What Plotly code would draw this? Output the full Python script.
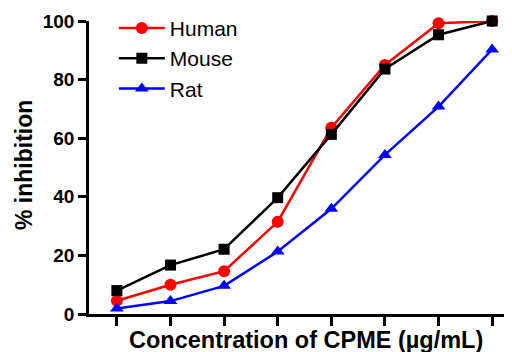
import plotly.graph_objects as go

x_idx = [0, 1, 2, 3, 4, 5, 6, 7]
human = [4.5, 10.0, 14.6, 31.5, 63.6, 85.0, 99.2, 100.0]
mouse = [8.0, 16.7, 22.1, 39.7, 61.3, 83.6, 95.3, 100.0]
rat = [1.9, 4.4, 9.6, 21.3, 35.9, 54.3, 70.8, 90.3]
y_ticks = [0, 20, 40, 60, 80, 100]

FONT = "Liberation Sans, Arial, sans-serif"

fig = go.Figure()
fig.add_trace(go.Scatter(x=x_idx, y=human, name="Human", mode="lines+markers",
                         line=dict(color="#ff0000", width=2.5),
                         marker=dict(symbol="circle", size=12, color="#ff0000"),
                         cliponaxis=False))
fig.add_trace(go.Scatter(x=x_idx, y=mouse, name="Mouse", mode="lines+markers",
                         line=dict(color="#000000", width=2.5),
                         marker=dict(symbol="square", size=11, color="#000000"),
                         cliponaxis=False))
fig.add_trace(go.Scatter(x=x_idx, y=rat, name="Rat", mode="lines+markers",
                         line=dict(color="#0000ff", width=2.5),
                         marker=dict(symbol="triangle-up", size=12, color="#0000ff"),
                         cliponaxis=False))

# page body has an 8px margin, so the figure is 8px smaller and offset
fig.update_layout(
    width=504, height=344,
    margin=dict(l=81, r=0, t=13, b=38, autoexpand=False),
    paper_bgcolor="white", plot_bgcolor="white",
    font=dict(family=FONT, color="black"),
    showlegend=True,
    legend=dict(x=0.0587, y=1.045,
                xanchor="left", yanchor="top",
                font=dict(size=21, family=FONT, color="black"),
                bgcolor="rgba(0,0,0,0)", itemwidth=46, tracegroupgap=0),
    xaxis=dict(range=[-0.52, 7.37], showgrid=False, zeroline=False,
               showline=True, linecolor="black", linewidth=2.5,
               ticks="outside", ticklen=9, tickwidth=2.5, tickcolor="black",
               tickvals=x_idx, showticklabels=False),
    yaxis=dict(range=[0, 100], showgrid=False, zeroline=False,
               showline=True, linecolor="black", linewidth=2.5,
               ticks="outside", ticklen=8, tickwidth=2.5, tickcolor="black",
               tickvals=y_ticks,
               tickfont=dict(size=19, family=FONT, color="black", weight="bold")),
    annotations=[
        dict(text="<b>Concentration of CPME (µg/mL)</b>", xref="paper", yref="paper",
             x=0.514, y=-0.089, xanchor="center", yanchor="middle", showarrow=False,
             font=dict(size=23.5, family=FONT, color="black")),
        dict(text="<b>% inhibition</b>", xref="paper", yref="paper",
             x=-0.154, y=0.508, xanchor="center", yanchor="middle", showarrow=False,
             textangle=-90, font=dict(size=23, family=FONT, color="black")),
    ],
)

fig.write_html("out.html")
